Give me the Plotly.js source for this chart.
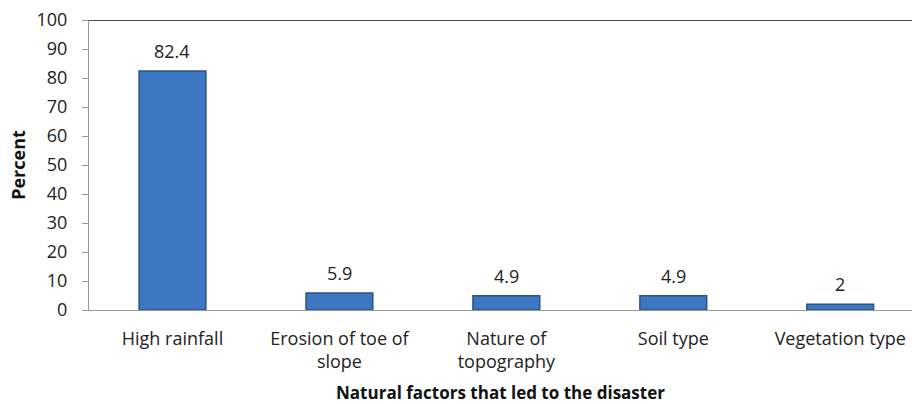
<!DOCTYPE html>
<html><head><meta charset="utf-8">
<script src="https://cdn.plot.ly/plotly-3.0.1.min.js"></script>
<style>html,body{margin:0;padding:0;background:#fff}#c{width:912px;height:404px}</style>
</head><body><div id="c"></div>
<script>
const categories = ["High rainfall", "Erosion of toe of<br>slope", "Nature of<br>topography", "Soil type", "Vegetation type"];
const percents = [82.4, 5.9, 4.9, 4.9, 2];
const valueLabels = ["82.4", "5.9", "4.9", "4.9", "2"];
const yTicks = [0,10,20,30,40,50,60,70,80,90,100];

const font = "'Open Sans', 'Liberation Sans', sans-serif";
const trace = {
  type: 'bar', x: categories, y: percents,
  marker: {color: '#3d77c2', line: {color: '#2a5286', width: 1.5}},
  width: 0.4, hoverinfo: 'none'
};
const annotations = categories.map((c, i) => ({
  x: c, y: percents[i], xref: 'x', yref: 'y', text: valueLabels[i],
  showarrow: false, yanchor: 'bottom', yshift: 6,
  font: {family: font, size: 18, color: '#222'}
}));
const layout = {
  width: 912, height: 404,
  margin: {l: 89, r: 0, t: 20, b: 94},
  paper_bgcolor: '#fff', plot_bgcolor: '#fff',
  showlegend: false,
  font: {family: font, size: 18, color: '#222'},
  xaxis: {
    type: 'category', range: [-0.5, 4.43], showgrid: false, zeroline: false,
    showline: true, linecolor: '#999', linewidth: 1, ticks: '', ticklabelstandoff: 12,
    tickfont: {family: font, size: 18, color: '#222'},
    title: {text: '<b>Natural factors that led to the disaster</b>', font: {family: font, size: 17, color: '#111'}, standoff: 15}
  },
  yaxis: {
    range: [0, 100], tickvals: yTicks, showgrid: false, zeroline: false,
    showline: true, linecolor: '#999', linewidth: 1, ticks: 'outside', ticklen: 6, tickcolor: '#999',
    ticklabelstandoff: 11,
    tickfont: {family: font, size: 18, color: '#222'},
    title: {text: '<b>Percent</b>', font: {family: font, size: 18, color: '#111'}, standoff: 6}
  },
  annotations: annotations,
  shapes: [{type: 'line', xref: 'paper', yref: 'y', x0: 0, x1: 1, y0: 100, y1: 100, line: {color: '#111', width: 1.5}}]
};
Plotly.newPlot('c', [trace], layout, {staticPlot: true, displayModeBar: false});
</script></body></html>
